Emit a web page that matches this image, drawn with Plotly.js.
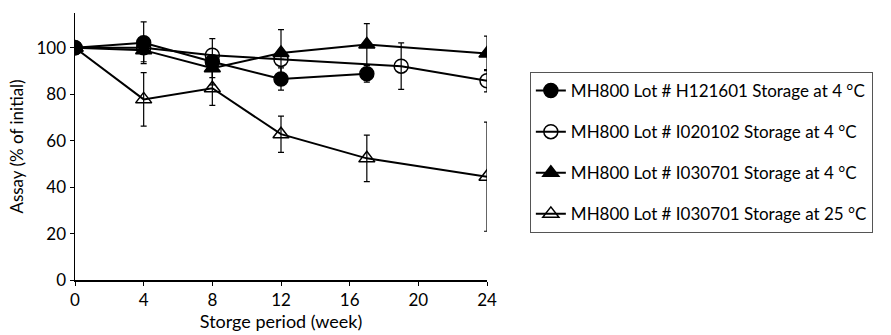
<!DOCTYPE html>
<html>
<head>
<meta charset="utf-8">
<script src="https://cdn.plot.ly/plotly-3.0.1.min.js"></script>
<style>html,body{margin:0;padding:0;background:#fff;}#chart{width:891px;height:335px;}</style>
</head>
<body>
<div id="chart"></div>
<script>
// Data
const seriesNames = [
  "MH800 Lot # H121601 Storage at 4 °C",
  "MH800 Lot # I020102 Storage at 4 °C",
  "MH800 Lot # I030701 Storage at 4 °C",
  "MH800 Lot # I030701 Storage at 25 °C"
];
const weeksH121601 = [0, 4, 8, 12, 17];
const assayH121601 = [100, 102.2, 94, 86.6, 88.8];
const errH121601   = [0, 9, 10, 4.8, 3.6];

const weeksI020102 = [0, 4, 8, 12, 19, 24];
const assayI020102 = [100, 100, 96.8, 95, 92.1, 85.8];
const errI020102   = [0, 0, 0, 0, 10, 4.8];

const weeksI030701c = [0, 4, 8, 12, 17, 24];
const assayI030701c = [100, 99, 91.2, 97.8, 101.4, 97.6];
const errI030701c   = [0, 5, 4, 10, 9, 7.4];

const weeksI030701w = [0, 4, 8, 12, 17, 24];
const assayI030701w = [100, 77.8, 82.6, 62.8, 52.4, 44.5];
const errI030701w   = [0, 11.5, 7.4, 7.8, 10, 23.5];

const xTicks = [0, 4, 8, 12, 16, 20, 24];
const yTicks = [0, 20, 40, 60, 80, 100];

const FONT = "Lato, 'Open Sans', sans-serif";
const err = arr => ({type: 'data', array: arr, visible: true, color: '#000', thickness: 1.2, width: 3});
function mk(name, x, y, e, symbol, group) {
  return {
    x: x, y: y, name: name, type: 'scatter', mode: 'lines+markers',
    legendgroup: group,
    line: {color: '#000', width: 2},
    marker: {symbol: symbol, size: 14, color: '#000',
             line: {color: '#000', width: 1.5}},
    error_y: err(e)
  };
}
const data = [
  mk(seriesNames[0], weeksH121601, assayH121601, errH121601, 'circle', 'a'),
  mk(seriesNames[1], weeksI020102, assayI020102, errI020102, 'circle-open', 'b'),
  mk(seriesNames[2], weeksI030701c, assayI030701c, errI030701c, 'triangle-up', 'c'),
  mk(seriesNames[3], weeksI030701w, assayI030701w, errI030701w, 'triangle-up-open', 'd')
];
const layout = {
  width: 891, height: 335,
  margin: {l: 75, r: 404, t: 13, b: 55},
  paper_bgcolor: '#fff', plot_bgcolor: '#fff',
  font: {family: FONT, color: '#000', size: 17},
  showlegend: true,
  legend: {
    x: 1.104, xanchor: 'left', y: 0.779, yanchor: 'top',
    xref: 'paper', yref: 'paper',
    bordercolor: '#555', borderwidth: 1,
    font: {family: FONT, size: 17, color: '#000'},
    tracegroupgap: 16, traceorder: 'grouped',
    itemwidth: 30
  },
  xaxis: {
    range: [0, 24], tickvals: xTicks, ticktext: xTicks.map(String),
    showgrid: false, zeroline: false, showline: true, linecolor: '#000', linewidth: 1.5,
    ticks: 'outside', ticklen: 4, tickcolor: '#000',
    tickfont: {family: FONT, size: 17},
    title: {text: 'Storge period (week)', font: {family: FONT, size: 18}, standoff: 6}
  },
  yaxis: {
    range: [0, 115], tickvals: yTicks, ticktext: yTicks.map(String),
    showgrid: false, zeroline: false, showline: true, linecolor: '#000', linewidth: 1.5,
    ticks: 'outside', ticklen: 4, tickcolor: '#000',
    tickfont: {family: FONT, size: 17},
    title: {text: 'Assay (% of initial)', font: {family: FONT, size: 17}, standoff: 8}
  }
};
Plotly.newPlot('chart', data, layout, {displayModeBar: false, staticPlot: true});
</script>
</body>
</html>
